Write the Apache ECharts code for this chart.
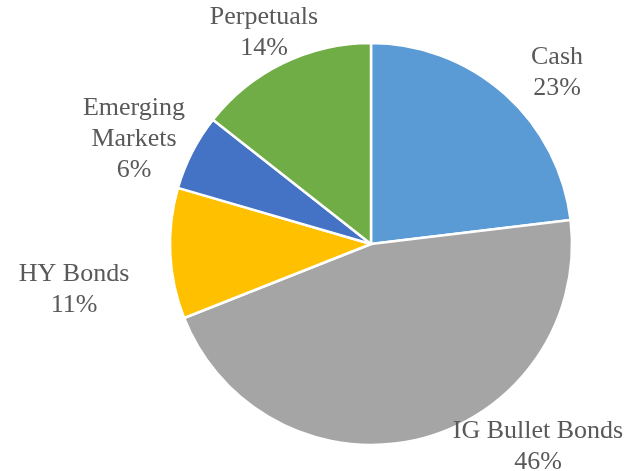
<!DOCTYPE html>
<html>
<head>
<meta charset="utf-8">
<script src="https://cdn.jsdelivr.net/npm/echarts@6/dist/echarts.min.js"></script>
<style>
  html, body { margin: 0; padding: 0; background: #fff; }
  #chart { width: 630px; height: 471px; }
</style>
</head>
<body>
<div id="chart"></div>
<script>
const categories = ['Cash', 'IG Bullet Bonds', 'HY Bonds', 'Emerging Markets', 'Perpetuals']
// slice sizes (labels show them rounded)
const shares = [23.1, 45.9, 10.5, 6.1, 14.4]
const colors = ['#5B9BD5', '#A5A5A5', '#FFC000', '#4472C4', '#70AD47']

// where each label sits (centre of the text block)
const labelSpots = [[557, 73], [538, 447], [74, 290], [134, 139], [264, 33]]

const chart = echarts.init(document.getElementById('chart'))
chart.setOption({
  animation: false,
  color: colors,
  series: [{
    type: 'pie',
    center: [371, 244],
    radius: 201,
    startAngle: 90,
    clockwise: true,
    data: categories.map((name, i) => ({ name: name, value: shares[i] })),
    itemStyle: {
      borderColor: '#fff',
      borderWidth: 2.5
    },
    label: {
      show: true,
      position: 'outside',
      overflow: 'none',
      edgeDistance: 0,
      fontFamily: '"Liberation Serif", "Times New Roman", serif',
      fontSize: 26,
      lineHeight: 31,
      color: '#595959',
      align: 'center',
      formatter: p => {
        const name = p.name === 'Emerging Markets' ? 'Emerging\nMarkets' : p.name
        return name + '\n' + Math.round(p.value) + '%'
      }
    },
    labelLine: { show: false },
    labelLayout: p => ({
      x: labelSpots[p.dataIndex][0],
      y: labelSpots[p.dataIndex][1],
      align: 'center',
      verticalAlign: 'middle'
    })
  }]
})
</script>
</body>
</html>
